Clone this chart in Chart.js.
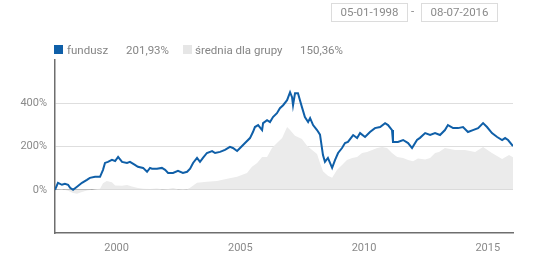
<!DOCTYPE html>
<html>
<head>
<meta charset="utf-8">
<script src="https://cdn.jsdelivr.net/npm/chart.js@4"></script>
<style>
    body { margin: 0; background: #fff; font-family: Roboto, "DejaVu Sans", sans-serif; }
    #wrap { position: relative; width: 540px; height: 269px; }
    .box { position: absolute; top: 3px; height: 17px; width: 75px; border: 1px solid #dcdcdc;
           color: #8a8a8a; font-size: 11.5px; line-height: 17px; text-align: center; }
    .lg { position: absolute; top: 43px; font-size: 11.5px; color: #858585; white-space: nowrap; }
    .sq { position: absolute; top: 45px; width: 9px; height: 9px; }
    canvas { position: absolute; left: 0; top: 0; }
</style>
</head>
<body>
<div id="wrap">
    <canvas id="fundChart" width="540" height="269"></canvas>
    <div class="box" style="left:331px">05-01-1998</div>
    <div class="lg" style="left:411px;top:4px">-</div>
    <div class="box" style="left:421px">08-07-2016</div>
    <div class="sq" style="left:54px;background:#0f5fa8"></div>
    <div class="lg" style="left:67px">fundusz</div>
    <div class="lg" style="left:126px">201,93%</div>
    <div class="sq" style="left:183px;background:#e6e6e6"></div>
    <div class="lg" style="left:195px">średnia dla grupy</div>
    <div class="lg" style="left:300px">150,36%</div>
</div>
<script>
// x values are decimal years, y values are % change since start
const fundYears = [1998.01, 1998.13, 1998.29, 1998.41, 1998.54, 1998.62, 1998.74, 1998.90, 1999.10, 1999.30,
    1999.42, 1999.63, 1999.83, 1999.95, 2000.03, 2000.15, 2000.31, 2000.44, 2000.56, 2000.72,
    2000.92, 2001.04, 2001.24, 2001.36, 2001.57, 2001.73, 2001.85, 2001.93, 2002.13, 2002.33,
    2002.46, 2002.58, 2002.78, 2002.98, 2003.18, 2003.35, 2003.47, 2003.59, 2003.75, 2003.87,
    2003.99, 2004.15, 2004.36, 2004.48, 2004.68, 2004.88, 2005.08, 2005.20, 2005.37, 2005.49,
    2005.69, 2005.89, 2006.01, 2006.09, 2006.22, 2006.38, 2006.42, 2006.58, 2006.70, 2006.82,
    2006.98, 2007.10, 2007.23, 2007.39, 2007.51, 2007.59, 2007.63, 2007.71, 2007.83, 2007.91,
    2007.99, 2008.11, 2008.24, 2008.32, 2008.44, 2008.60, 2008.72, 2008.84, 2008.92, 2009.04,
    2009.21, 2009.33, 2009.45, 2009.61, 2009.73, 2009.85, 2010.06, 2010.22, 2010.34, 2010.54,
    2010.74, 2010.94, 2011.15, 2011.35, 2011.47, 2011.63, 2011.67, 2011.87, 2012.08, 2012.28,
    2012.44, 2012.64, 2012.76, 2012.97, 2013.17, 2013.37, 2013.57, 2013.77, 2013.89, 2014.10,
    2014.30, 2014.50, 2014.70, 2014.90, 2015.11, 2015.31, 2015.47, 2015.67, 2015.88, 2016.08,
    2016.20, 2016.32, 2016.52];
const fundValues = [0, 32, 23, 28, 23, 9, 0, 14, 32, 46,
    55, 60, 60, 92, 124, 129, 138, 133, 152, 129,
    124, 129, 115, 106, 101, 83, 101, 97, 97, 101,
    92, 78, 78, 87, 78, 83, 97, 124, 147, 129,
    147, 170, 179, 170, 175, 184, 198, 193, 179, 193,
    216, 239, 267, 290, 299, 276, 308, 322, 313, 336,
    354, 377, 391, 414, 451, 428, 391, 446, 446, 414,
    382, 336, 313, 331, 299, 276, 255, 160, 129, 147,
    101, 138, 170, 193, 216, 221, 253, 239, 262, 244,
    267, 285, 290, 308, 299, 276, 221, 221, 230, 216,
    193, 230, 240, 262, 253, 262, 253, 276, 299, 285,
    285, 290, 267, 276, 285, 308, 290, 262, 244, 230,
    239, 230, 202];

const groupYears = [1998.01, 1998.29, 1998.54, 1998.74, 1998.90, 1999.10, 1999.30, 1999.63, 1999.83, 1999.95,
    2000.10, 2000.31, 2000.44, 2000.72, 2000.92, 2001.12, 2001.36, 2001.57, 2001.85, 2002.13,
    2002.33, 2002.58, 2002.78, 2002.98, 2003.18, 2003.35, 2003.47, 2003.75, 2004.15, 2004.56,
    2004.97, 2005.37, 2005.77, 2005.97, 2006.18, 2006.38, 2006.58, 2006.78, 2006.98, 2007.19,
    2007.39, 2007.51, 2007.71, 2007.99, 2008.19, 2008.40, 2008.60, 2008.72, 2008.84, 2009.04,
    2009.21, 2009.41, 2009.61, 2009.81, 2010.02, 2010.22, 2010.42, 2010.62, 2010.83, 2011.03,
    2011.23, 2011.43, 2011.63, 2011.84, 2012.08, 2012.28, 2012.48, 2012.68, 2012.97, 2013.17,
    2013.37, 2013.53, 2013.77, 2014.18, 2014.58, 2014.99, 2015.31, 2015.67, 2016.08, 2016.36,
    2016.52];
const groupValues = [0, 2, -5, -15, -18, -10, -3, 2, 5, 30,
    40, 35, 20, 18, 22, 15, 8, 5, 3, 6,
    2, 4, 8, 2, 4, 2, 9, 32, 37, 41,
    51, 60, 78, 106, 124, 152, 152, 193, 216, 239,
    290, 276, 250, 235, 205, 184, 165, 124, 85, 65,
    55, 92, 115, 138, 147, 152, 170, 175, 184, 193,
    198, 193, 170, 152, 147, 138, 132, 145, 140, 147,
    170, 175, 193, 184, 184, 175, 198, 170, 142, 161,
    150];

const yearLabels = [2000, 2005, 2010, 2015];
const yTicks = [-200, 0, 200, 400, 600];
const yLabelled = [0, 200, 400];

const toPoints = (xs, ys) => xs.map((x, i) => ({ x: x, y: ys[i] }));

const fontSpec = { family: 'Roboto, "DejaVu Sans", sans-serif', size: 11 };

const ctx = document.getElementById('fundChart').getContext('2d');

const fundChart = new Chart(ctx, {
    type: 'line',
    data: {
        datasets: [{
            label: 'fundusz',
            data: toPoints(fundYears, fundValues),
            borderColor: '#0f5fa8',
            borderWidth: 2,
            pointRadius: 0,
            fill: false,
            order: 1
        }, {
            label: 'średnia dla grupy',
            data: toPoints(groupYears, groupValues),
            borderWidth: 0,
            borderColor: 'rgba(0,0,0,0)',
            backgroundColor: '#ebebeb',
            pointRadius: 0,
            fill: 'origin',
            order: 2
        }]
    },
    options: {
        responsive: false,
        animation: false,
        layout: { padding: { top: 60, right: 27, left: 0, bottom: 0 } },
        plugins: {
            legend: { display: false },
            tooltip: { enabled: false }
        },
        scales: {
            x: {
                type: 'linear',
                min: 1998.01,
                max: 2016.52,
                afterBuildTicks: function (scale) {
                    // labels sit in the middle of each year
                    scale.ticks = yearLabels.map(y => ({ value: y + 0.5 }));
                },
                afterFit: function (scale) { scale.height = 36; },
                grid: { display: false, drawTicks: false },
                border: { display: true, color: '#6e6e6e', width: 1.5 },
                ticks: {
                    color: '#8a8a8a',
                    font: fontSpec,
                    padding: 9,
                    maxRotation: 0,
                    callback: v => String(Math.round(v - 0.5))
                }
            },
            y: {
                min: -200,
                max: 600,
                afterBuildTicks: function (scale) {
                    scale.ticks = yTicks.map(v => ({ value: v }));
                },
                afterFit: function (scale) { scale.width = 55; },
                grid: {
                    drawTicks: false,
                    color: c => {
                        const v = c.tick.value;
                        if (v === 0) return '#a8a8a8';
                        if (v === 200 || v === 400) return '#dedede';
                        return 'rgba(0,0,0,0)';
                    }
                },
                border: { display: true, color: '#6e6e6e', width: 1.5 },
                ticks: {
                    color: '#8a8a8a',
                    font: fontSpec,
                    padding: 8,
                    callback: v => yLabelled.includes(v) ? v + '%' : ''
                }
            }
        }
    }
});
</script>
</body>
</html>
